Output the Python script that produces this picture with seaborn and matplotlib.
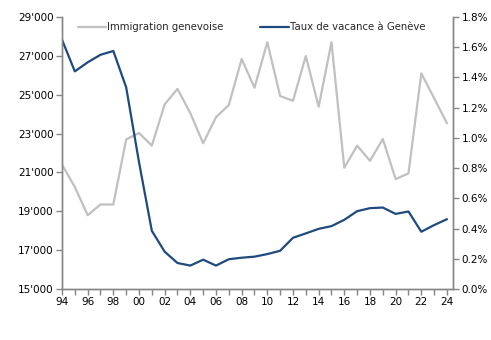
import matplotlib
matplotlib.use("Agg")
import matplotlib.pyplot as plt
import seaborn as sns
import pandas as pd
from matplotlib.ticker import FuncFormatter, MultipleLocator

years = list(range(1994, 2025))
immigration = [21400, 20250, 18800, 19350, 19350, 22700, 23030, 22380, 24500, 25300,
               24050, 22500, 23840, 24470, 26840, 25360, 27700, 24930, 24690, 26990,
               24380, 27700, 21240, 22380, 21600, 22720, 20660, 20950, 26100, 24820,
               23530]
vacance = [1.65, 1.44, 1.50, 1.55, 1.575, 1.335, 0.84, 0.385, 0.247, 0.172,
           0.155, 0.194, 0.155, 0.197, 0.207, 0.214, 0.231, 0.253, 0.339, 0.368,
           0.398, 0.416, 0.458, 0.515, 0.535, 0.539, 0.497, 0.513, 0.379, 0.423,
           0.462]
left_ticks = [15000, 17000, 19000, 21000, 23000, 25000, 27000, 29000]
label_imm = "Immigration genevoise"
label_vac = "Taux de vacance à Genève"

df = pd.DataFrame({"year": years, "imm": immigration, "vac": vacance})

sns.set_style("white")
plt.rcParams['font.family'] = ['DejaVu Sans']

fig = plt.figure(figsize=(4.91, 3.40), dpi=100)
ax = fig.add_axes([62/491, 1-289/340, (453-62)/491, (289-17)/340])
ax2 = ax.twinx()

gray = "#c0c0c0"
blue = "#1f4a7e"
spine_c = "#868686"

sns.lineplot(data=df, x="year", y="imm", ax=ax, color=gray, linewidth=1.6, label=label_imm, legend=False)
sns.lineplot(data=df, x="year", y="vac", ax=ax2, color=blue, linewidth=1.6, label=label_vac, legend=False)

ax.set_xlim(1994, 2024.47)
ax.set_ylim(15000, 29000)
ax2.set_ylim(0, 1.8)

ax.set_yticks(left_ticks)
ax.yaxis.set_major_formatter(FuncFormatter(lambda v, p: f"{int(v)//1000}'{int(v)%1000:03d}"))
ax2.yaxis.set_major_locator(MultipleLocator(0.2))
ax2.yaxis.set_major_formatter(FuncFormatter(lambda v, p: f"{v:.1f}%"))

ax.set_xticks(years, minor=True)
ax.set_xticks(years[::2])
ax.set_xticklabels([f"{y % 100:02d}" for y in years[::2]])

for a in (ax, ax2):
    a.set_xlabel("")
    a.set_ylabel("")
    for s in a.spines.values():
        s.set_color(spine_c)
        s.set_linewidth(1.0)
    a.spines['top'].set_visible(False)

ax.tick_params(axis='both', which='both', direction='out', color=spine_c, length=4, width=1,
               labelsize=7.5, pad=2, labelcolor='black')
ax.tick_params(axis='x', which='both', bottom=True, length=4)
ax.tick_params(axis='y', left=True, right=False)
ax2.tick_params(axis='y', direction='out', right=True, color=spine_c, length=4, width=1,
                labelsize=7.5, pad=2, labelcolor='black')

h1, l1 = ax.get_legend_handles_labels()
h2, l2 = ax2.get_legend_handles_labels()
fig.legend(h1 + h2, l1 + l2, loc='upper left', bbox_to_anchor=(74/491, 1-18/340), ncol=2,
           frameon=False, fontsize=7.3, handlelength=2.8, handletextpad=0.1, columnspacing=3.6,
           borderaxespad=0)

fig.savefig("out.png", dpi=100)
